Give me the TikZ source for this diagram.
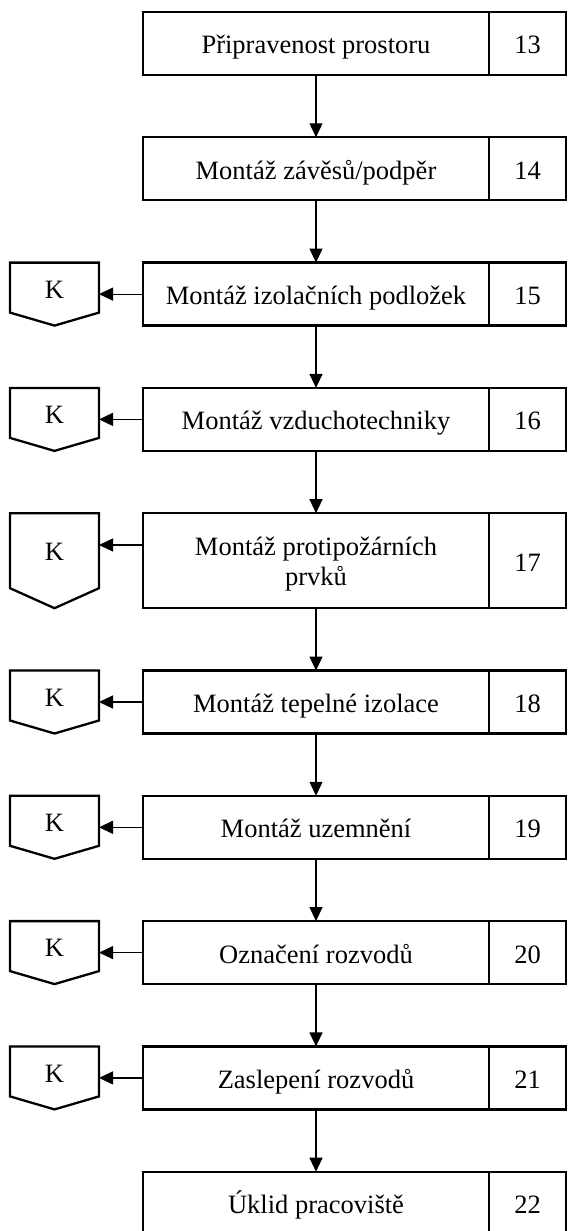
\documentclass[tikz,border=0pt]{standalone}
\usepackage{fontspec}
\setmainfont{Liberation Serif}
\usetikzlibrary{arrows.meta}

\begin{document}
\begin{tikzpicture}[x=1pt,y=-1pt,
  every node/.style={font=\fontsize{26.5}{30}\selectfont},
  boxline/.style={draw,line width=2.3pt,inner sep=0pt,outer sep=0pt},
  stepbox/.style={boxline,minimum width=346pt,minimum height=#1,
    text height=21pt,text depth=0pt},
  stepbox/.default=63pt,
  numbox/.style={boxline,minimum width=77pt,minimum height=#1,
    text height=21pt,text depth=0pt},
  numbox/.default=63pt,
  flow/.style={line width=1.2pt,-{Triangle[length=14pt,width=13pt]}},
  kshape/.style={draw,line width=2.3pt,line join=miter},
  klabel/.style={inner sep=0pt}
]
\useasboundingbox (0,0) rectangle (568,1231);

% process steps (main column at x = 316, number column at x = 527.5)
\node[stepbox]        (b13) at (316,43.5)   {Připravenost prostoru};
\node[numbox]         (n13) at (527.5,43.5) {13};
\node[stepbox]        (b14) at (316,168.8)  {Montáž závěsů/podpěr};
\node[numbox]         (n14) at (527.5,168.8){14};
\node[stepbox]        (b15) at (316,294.1)  {Montáž izolačních podložek};
\node[numbox]         (n15) at (527.5,294.1){15};
\node[stepbox]        (b16) at (316,419.4)  {Montáž vzduchotechniky};
\node[numbox]         (n16) at (527.5,419.4){16};
\node[boxline,minimum width=346pt,minimum height=95pt] (b17) at (316,560.7) {};
\node[align=center,inner sep=0pt] (t17) at (316,564) {Montáž protipožárních\\prvků};
\node[numbox=95pt]    (n17) at (527.5,560.7){17};
\node[stepbox]        (b18) at (316,702)    {Montáž tepelné izolace};
\node[numbox]         (n18) at (527.5,702)  {18};
\node[stepbox]        (b19) at (316,827.3)  {Montáž uzemnění};
\node[numbox]         (n19) at (527.5,827.3){19};
\node[stepbox]        (b20) at (316,952.6)  {Označení rozvodů};
\node[numbox]         (n20) at (527.5,952.6){20};
\node[stepbox]        (b21) at (316,1077.9) {Zaslepení rozvodů};
\node[numbox]         (n21) at (527.5,1077.9){21};
\node[stepbox]        (b22) at (316,1203.2) {Úklid pracoviště};
\node[numbox]         (n22) at (527.5,1203.2){22};

% downward flow
\foreach \a/\b in {13/14,14/15,15/16,16/17,17/18,18/19,19/20,20/21,21/22}
  \draw[flow] (b\a.south) -- (b\b.north);

% control marks "K": pentagon pointing down, top level with the step box
\foreach \s/\t in {15/262.6,16/387.9,18/670.5,19/795.8,20/921.1,21/1046.4}{
  \draw[kshape] (10,\t) -- (99,\t) -- (99,\t+50) -- (54.5,\t+63)
    -- (10,\t+50) -- cycle;
  \node[klabel] (k\s) at (54.5,\t+27) {K};
  \coordinate (e\s) at (99,\t+31.5);
  \draw[flow] (b\s.west |- e\s) -- (e\s);
}
% taller mark beside step 17
\draw[kshape] (10,513.2) -- (99,513.2) -- (99,588.2) -- (54.5,608.2)
  -- (10,588.2) -- cycle;
\node[klabel] (k17) at (54.5,552) {K};
\coordinate (e17) at (99,545);
\draw[flow] (b17.west |- e17) -- (e17);

\end{tikzpicture}
\end{document}
